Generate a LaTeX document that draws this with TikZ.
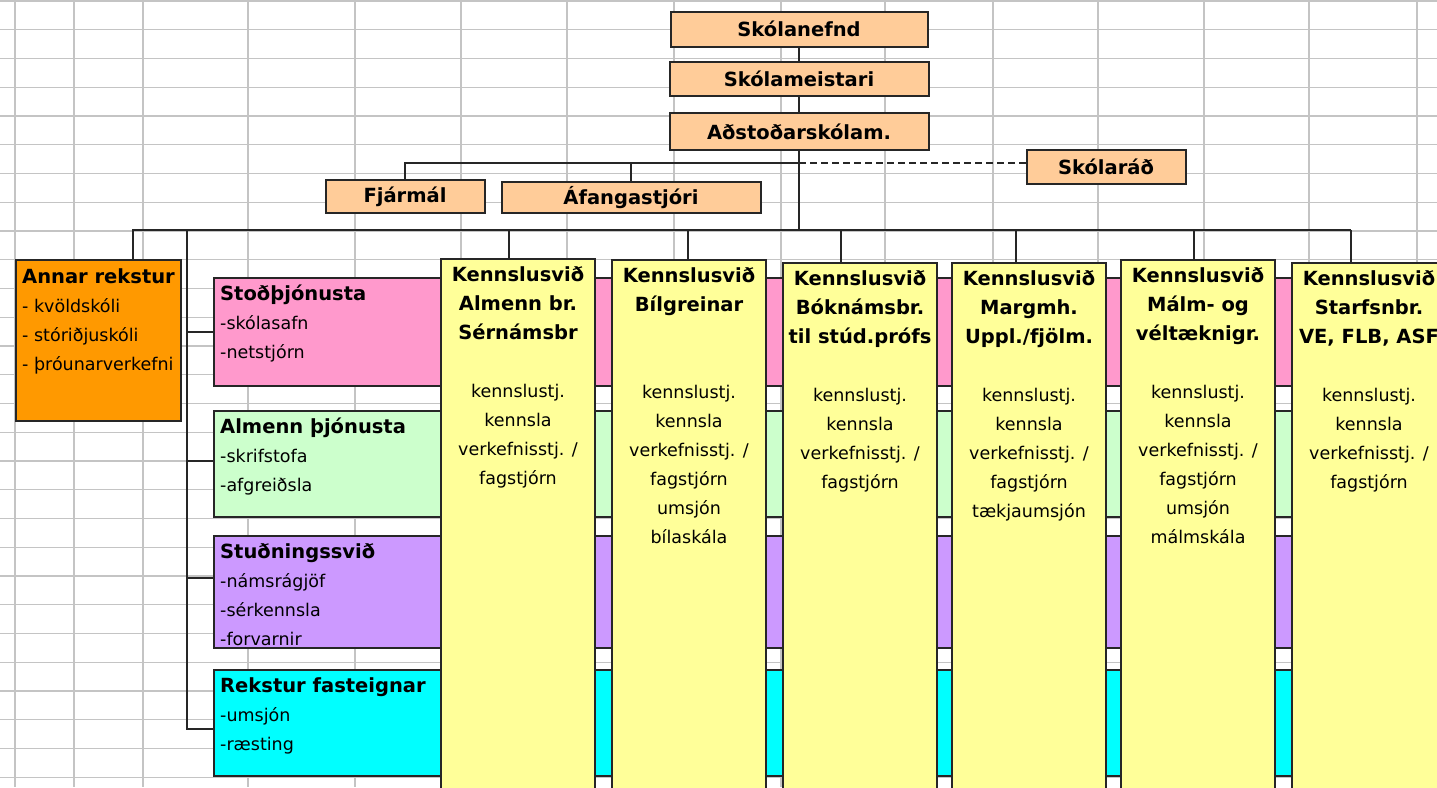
\documentclass[tikz,border=0pt]{standalone}
\usepackage{fontspec}
\setmainfont{DejaVu Sans}
\usepackage{tikz}
\definecolor{peach}{HTML}{FFCC99}
\definecolor{orng}{HTML}{FF9900}
\definecolor{bpink}{HTML}{FF99CC}
\definecolor{bgreen}{HTML}{CCFFCC}
\definecolor{bviolet}{HTML}{CC99FF}
\definecolor{bcyan}{HTML}{00FFFF}
\definecolor{byellow}{HTML}{FFFF99}
\definecolor{gridgray}{HTML}{C4C4C4}
\newcommand{\hdl}[1]{{\bfseries\fontsize{19.5}{29}\selectfont #1}}

\begin{document}
\begin{tikzpicture}[x=1pt,y=-1pt,
    every node/.style={inner sep=0pt},
    box/.style={rectangle,draw=black!85,line width=2pt},
    headbox/.style={box,fill=peach,font=\bfseries\fontsize{19.5}{23}\selectfont},
    band/.style={box,anchor=north west,minimum width=1260},
    kbox/.style={box,fill=byellow,anchor=north,minimum width=154,minimum height=560},
    ltxt/.style={anchor=north west,align=left,font=\fontsize{17.5}{29}\selectfont},
    ctxt/.style={anchor=north,align=center,font=\fontsize{17.5}{29}\selectfont},
    wire/.style={draw=black!85,line width=2pt}]
\useasboundingbox (0,0) rectangle (1437,787);
\clip (0,0) rectangle (1437,787);
% grid of the sheet
\foreach \x in {15,74,143,248,355,461,567,674,781,885,993,1098,1204,1309,1417}
    \draw[gridgray,line width=1.4pt] (\x,0) -- (\x,787);
\foreach \i [evaluate={\y=1+28.75*\i}] in {0,...,27}
    \draw[gridgray,line width=1.4pt] (0,\y) -- (1437,\y);

% top of the chart
\node[headbox,minimum width=257,minimum height=35] (nefnd) at (799,29) {Skólanefnd};
\node[headbox,minimum width=259,minimum height=34] (meist) at (799,79) {Skólameistari};
\node[headbox,minimum width=259,minimum height=37] (adst) at (799,131.5) {Aðstoðarskólam.};
\node[headbox,minimum width=159,minimum height=34] (rad) at (1106,167) {Skólaráð};
\node[headbox,minimum width=159,minimum height=33] (fjar) at (405,196.5) {Fjármál};
\node[headbox,minimum width=259,minimum height=31] (afang) at (631,197.5) {Áfangastjóri};

% left side
\node[box,fill=orng,anchor=north west,minimum width=165,minimum height=161] (annar) at (15,259) {};
\node[ltxt] (annar-t) at ([shift={(7,9)}]annar.north west)
    {\hdl{Annar rekstur}\\- kvöldskóli\\- stóriðjuskóli\\- þróunarverkefni};

\foreach \n/\y/\h/\c/\t in {
    stod/277/108/bpink/{\hdl{Stoðþjónusta}\\-skólasafn\\-netstjórn},
    alm/410/106/bgreen/{\hdl{Almenn þjónusta}\\-skrifstofa\\-afgreiðsla},
    stud/535/112/bviolet/{\hdl{Stuðningssvið}\\-námsrágjöf\\-sérkennsla\\-forvarnir},
    rek/669/106/bcyan/{\hdl{Rekstur fasteignar}\\-umsjón\\-ræsting}}{
  \node[band,fill=\c,minimum height=\h] (\n) at (213,\y) {};
  \node[ltxt] (\n-t) at ([shift={(7,8)}]\n.north west) {\t};
}

% teaching areas
\foreach \n/\x/\y/\t in {
    k1/518/258/{\hdl{Kennslusvið}\\\hdl{Almenn br.}\\\hdl{Sérnámsbr}\\[29pt]kennslustj.\\kennsla\\verkefnisstj. /\\fagstjórn},
    k2/689/259/{\hdl{Kennslusvið}\\\hdl{Bílgreinar}\\[58pt]kennslustj.\\kennsla\\verkefnisstj. /\\fagstjórn\\umsjón\\bílaskála},
    k3/860/262/{\hdl{Kennslusvið}\\\hdl{Bóknámsbr.}\\\hdl{til stúd.prófs}\\[29pt]kennslustj.\\kennsla\\verkefnisstj. /\\fagstjórn},
    k4/1029/262/{\hdl{Kennslusvið}\\\hdl{Margmh.}\\\hdl{Uppl./fjölm.}\\[29pt]kennslustj.\\kennsla\\verkefnisstj. /\\fagstjórn\\tækjaumsjón},
    k5/1198/259/{\hdl{Kennslusvið}\\\hdl{Málm- og}\\\hdl{véltæknigr.}\\[29pt]kennslustj.\\kennsla\\verkefnisstj. /\\fagstjórn\\umsjón\\málmskála},
    k6/1369/262/{\hdl{Kennslusvið}\\\hdl{Starfsnbr.}\\\hdl{VE, FLB, ASF}\\[29pt]kennslustj.\\kennsla\\verkefnisstj. /\\fagstjórn}}{
  \node[kbox] (\n) at (\x,\y) {};
  \node[ctxt] (\n-t) at ([yshift=-8pt]\n.north) {\t};
}

% lines
\coordinate (fork) at (799,163);
\coordinate (bus) at (799,230);
\coordinate (busL) at (133,230);
\coordinate (busR) at (1351,230);
\coordinate (spine) at (187,230);
\draw[wire] (nefnd) -- (meist);
\draw[wire] (meist) -- (adst);
\draw[wire] (adst) -- (bus);
\draw[wire] (fork) -| (fjar);
\draw[wire] (fork) -| (afang);
\draw[wire,dash pattern=on 7pt off 4pt] (fork) -- (fork -| rad.west);
\draw[wire] (busL |- annar.north) -- (busL) -- (busR);
\foreach \n/\x in {k1/509,k2/688,k3/841,k4/1016,k5/1194,k6/1351}
    \draw[wire] (\x,230) -- (\x,230 |- \n.north);
\foreach \n/\d in {stod/0,alm/3,stud/14,rek/-6}
    \draw[wire] (spine) |- ([yshift=\d pt]\n.west);
\end{tikzpicture}
\end{document}
